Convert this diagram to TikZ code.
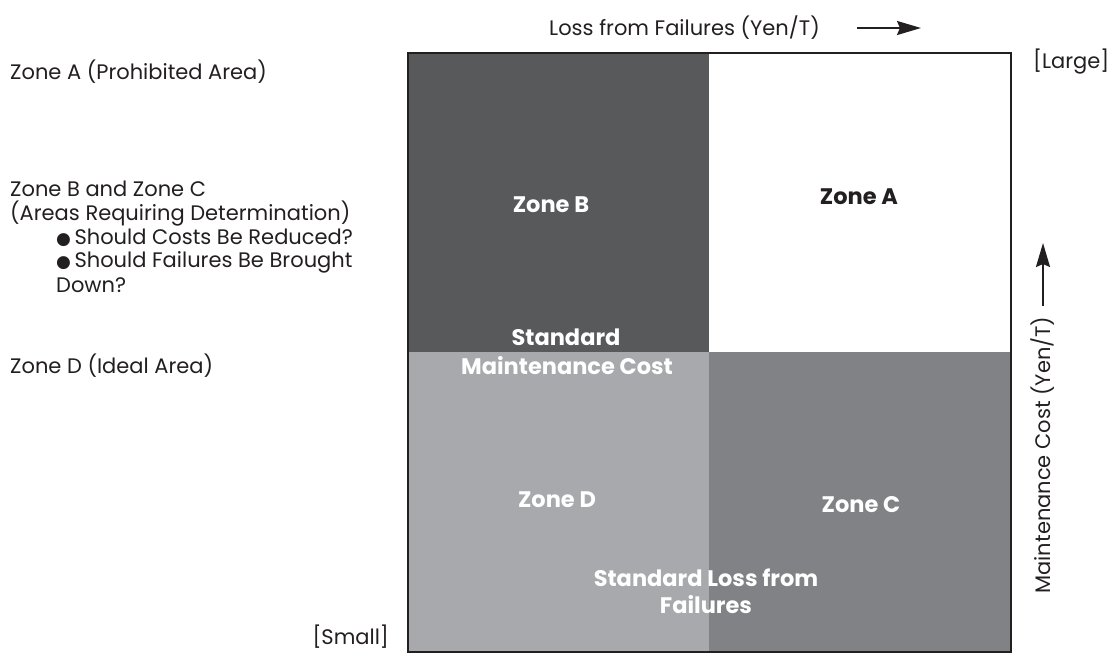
\documentclass[tikz,border=0pt]{standalone}
\usepackage{fontspec}
\setmainfont{Poppins}
\newfontfamily\symfont{DejaVu Sans}
\usetikzlibrary{arrows.meta}
\definecolor{zb}{HTML}{58595B}
\definecolor{zc}{HTML}{808285}
\definecolor{zd}{HTML}{A7A9AC}
\definecolor{ink}{HTML}{231F20}
\tikzset{
  lbl/.style={font=\fontsize{21}{24}\selectfont, text=ink, inner sep=0pt},
  zlbl/.style={font=\fontsize{22.5}{26}\selectfont\bfseries, text=white, inner sep=0pt, align=center},
  axarrow/.style={draw=ink, line width=2pt, -{Stealth[length=24pt,width=14pt,inset=3pt]}},
}
\begin{document}
\begin{tikzpicture}[x=1pt,y=-1pt]
\useasboundingbox (0,0) rectangle (1109,657);
% quadrants
\fill[white] (408,53) rectangle (1011,352);
\fill[zb] (408,53) rectangle (709,352);
\fill[zd] (408,352) rectangle (709,652);
\fill[zc] (709,352) rectangle (1011,652);
\draw[ink, line width=2.2pt] (408,53) rectangle (1011,652);
% zone labels
\node[zlbl] (zB) at (551,205) {Zone B};
\node[zlbl, text=ink] (zA) at (859,197) {Zone A};
\node[zlbl] (zD) at (557,500) {Zone D};
\node[zlbl] (zC) at (861,505) {Zone C};
\node[zlbl] (smc1) at (566,337) {Standard};
\node[zlbl] (smc2) at (567,366) {Maintenance Cost};
\node[zlbl] (slf1) at (706,578) {Standard Loss from};
\node[zlbl] (slf2) at (706,605) {Failures};
% axis labels
\node[lbl, anchor=east] (xax) at (820,28) {Loss from Failures (Yen/T)};
\coordinate (xa1) at (857,28);
\coordinate (xa2) at (921,28);
\draw[axarrow] (xa1) -- (xa2);
\node[lbl, anchor=west] (large) at (1033,62) {[Large]};
\node[lbl, anchor=east] (small) at (389,637) {[Small]};
\node[lbl, rotate=90] (yax) at (1043,455) {Maintenance Cost (Yen/T)};
\coordinate (ya1) at (1043,306);
\coordinate (ya2) at (1043,243);
\draw[axarrow] (ya1) -- (ya2);
% legend
\node[lbl, anchor=west] (lA) at (10,72) {Zone A (Prohibited Area)};
\node[lbl, anchor=west] (lBC) at (10,189) {Zone B and Zone C};
\node[lbl, anchor=west] (lBC2) at (10,214) {(Areas Requiring Determination)};
\node[lbl, anchor=west] (b1) at (56,238) {{\symfont\fontsize{17}{20}\selectfont ●}\,Should Costs Be Reduced?};
\node[lbl, anchor=west] (b2) at (56,262) {{\symfont\fontsize{17}{20}\selectfont ●}\,Should Failures Be Brought};
\node[lbl, anchor=west] (b3) at (56,285) {Down?};
\node[lbl, anchor=west] (lD) at (10,366) {Zone D (Ideal Area)};
\end{tikzpicture}
\end{document}
